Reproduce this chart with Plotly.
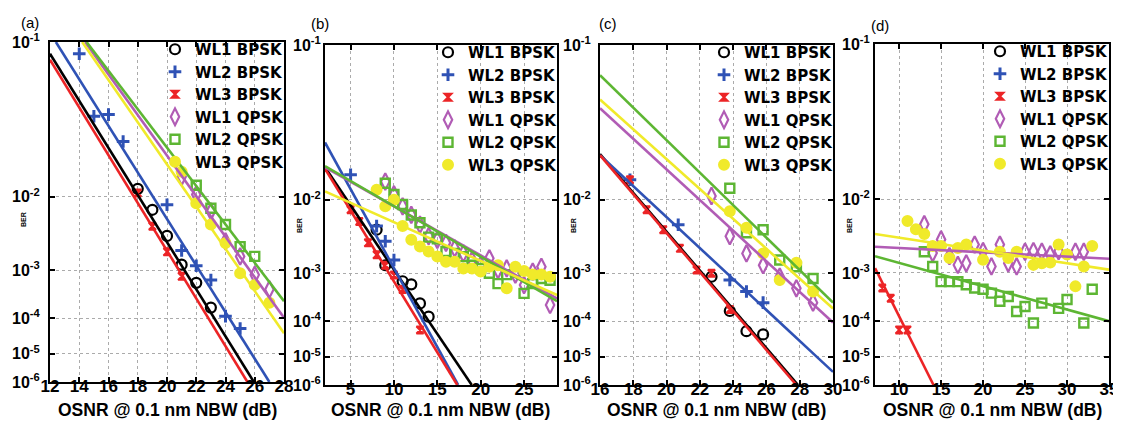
import math
import plotly.graph_objects as go

FIG_W, FIG_H = 1121, 421

SERIES = ["WL1 BPSK", "WL2 BPSK", "WL3 BPSK", "WL1 QPSK", "WL2 QPSK", "WL3 QPSK"]
COLORS = ["#000000", "#2f52b5", "#ec2426", "#b15cb5", "#5db633", "#f0ea2a"]
SYMBOLS = ["circle-open", "cross-thin-open", "hourglass", "diamond-tall-open", "square-open", "circle"]
SIZES = [10, 9, 7, 12, 9, 10]
LINE_W = [2.2, 3.0, 2.0, 2.2, 2.4, 2.0]

PANEL_LABELS = ["(a)", "(b)", "(c)", "(d)"]
X_TITLE = "OSNR @ 0.1 nm NBW (dB)"
Y_TITLE = "BER"
Y_TICK_BER = [1e-1, 1e-2, 1e-3, 1e-4, 1e-5, 1e-6]
Y_TICK_TEXT = ["10<sup>-1</sup>", "10<sup>-2</sup>", "10<sup>-3</sup>",
               "10<sup>-4</sup>", "10<sup>-5</sup>", "10<sup>-6</sup>"]

# ---------------- panel (a) ----------------
a_x_range = [12, 28]
a_x_ticks = [12, 14, 16, 18, 20, 22, 24, 26, 28]
a_wl1b_x = [18, 19, 20, 21, 22, 23]
a_wl1b_ber = [1.2e-2, 7.2e-3, 3.4e-3, 1.25e-3, 5.9e-4, 1.8e-4]
a_wl2b_x = [14, 15, 16, 17, 20, 21, 22, 23, 24, 25]
a_wl2b_ber = [9.0e-2, 4.4e-2, 4.5e-2, 3.0e-2, 8.2e-3, 2.1e-3, 1.2e-3, 6.7e-4, 1.13e-4, 5.5e-5]
a_wl3b_x = [18, 19, 20, 21]
a_wl3b_ber = [1.09e-2, 4.55e-3, 2.0e-3, 7.8e-4]
a_wl1q_x = [21, 22, 23, 24, 25, 26, 27]
a_wl1q_ber = [1.56e-2, 1.05e-2, 6.9e-3, 2.86e-3, 1.7e-3, 8.3e-4, 4.4e-4]
a_wl2q_x = [22, 23, 24, 25, 26]
a_wl2q_ber = [1.3e-2, 7.5e-3, 4.8e-3, 2.4e-3, 1.7e-3]
a_wl3q_x = [21, 22, 23, 24, 25, 26, 27]
a_wl3q_ber = [1.73e-2, 8.5e-3, 4.8e-3, 2.7e-3, 8.9e-4, 5.4e-4, 2.3e-4]
# linear fits (end points)
a_fit_x = [[12, 25.94], [12.4, 27.0], [12, 25.5], [14.4, 28], [14.5, 28], [14.2, 28]]
a_fit_ber = [[9.0e-2, 1e-6], [1e-1, 1e-6], [8.5e-2, 1e-6], [1e-1, 1.03e-4], [1e-1, 2.5e-4], [1e-1, 4.1e-5]]

# ---------------- panel (b) ----------------
b_x_range = [2.05, 28.8]
b_x_ticks = [5, 10, 15, 20, 25]
b_wl1b_x = [8, 9, 11, 12, 13, 14]
b_wl1b_ber = [4.5e-3, 1.37e-3, 7.2e-4, 6.3e-4, 2.6e-4, 1.3e-4]
b_wl2b_x = [5, 8, 9, 10]
b_wl2b_ber = [1.73e-2, 5.0e-3, 3.15e-3, 1.66e-3]
b_wl3b_x = [5, 6, 7, 8, 9, 10, 11, 13]
b_wl3b_ber = [7.8e-3, 5.7e-3, 3.0e-3, 2.0e-3, 1.37e-3, 9.3e-4, 5.0e-4, 6.0e-5]
b_wl1q_x = [9, 10, 11, 12, 13, 14, 15, 16, 17, 18, 19, 20, 21, 22, 23, 24, 25, 26, 27, 28]
b_wl1q_ber = [1.5e-2, 1.13e-2, 8.5e-3, 6.8e-3, 5.2e-3, 3.7e-3, 3.3e-3, 3.0e-3, 2.5e-3, 2.1e-3,
              1.66e-3, 1.37e-3, 1.77e-3, 1.14e-3, 1.21e-3, 9.5e-4, 6.1e-4, 1.07e-3, 1.29e-3, 2.4e-4]
b_wl2q_x = [9, 10, 11, 12, 13, 14, 15, 16, 17, 18, 19, 20, 21, 22, 23, 24, 25, 26, 27, 28]
b_wl2q_ber = [1.45e-2, 1.13e-2, 8.9e-3, 6.8e-3, 5.5e-3, 3.6e-3, 3.4e-3, 2.25e-3, 2.1e-3, 1.88e-3,
              1.37e-3, 1.21e-3, 1.0e-3, 6.5e-4, 9.5e-4, 1.07e-3, 4.2e-4, 6.5e-4, 8.1e-4, 7.5e-4]
b_wl3q_x = [8, 9, 10, 11, 12, 13, 14, 15, 16, 17, 18, 19, 20, 21, 22, 23, 24, 25, 26, 27, 28]
b_wl3q_ber = [1.26e-2, 8.5e-3, 1.0e-2, 5.0e-3, 3.3e-3, 2.67e-3, 2.25e-3, 1.88e-3, 1.56e-3, 1.56e-3,
              1.21e-3, 1.21e-3, 1.07e-3, 1.29e-3, 1.37e-3, 5.3e-4, 1.29e-3, 1.1e-3, 9.5e-4, 9.5e-4, 8.7e-4]
b_fit_x = [[2.05, 18.97], [2.05, 17.4], [2.05, 17.3], [2.05, 28.8], [2.05, 28.8], [2.05, 28.8]]
b_fit_ber = [[2.0e-2, 1e-6], [3.1e-2, 1e-6], [1.95e-2, 1e-6], [2.0e-2, 3.3e-4], [2.05e-2, 2.9e-4], [1.21e-2, 3.9e-4]]

# ---------------- panel (c) ----------------
c_x_range = [16, 30]
c_x_ticks = [16, 18, 20, 22, 24, 26, 28, 30]
c_wl1b_x = [22.7, 23.8, 24.8, 25.8]
c_wl1b_ber = [8.7e-4, 1.76e-4, 5.6e-5, 4.6e-5]
c_wl2b_x = [17.8, 20.7, 23.8, 24.8, 25.8]
c_wl2b_ber = [1.56e-2, 5.2e-3, 7.6e-4, 4.6e-4, 2.7e-4]
c_wl3b_x = [17.8, 18.8, 19.8, 20.8, 21.8, 22.7, 23.8]
c_wl3b_ber = [1.56e-2, 7.8e-3, 4.5e-3, 2.5e-3, 1.14e-3, 1.0e-3, 1.9e-4]
c_wl1q_x = [22.7, 23.8, 24.8, 25.8, 26.8, 27.8, 28.8]
c_wl1q_ber = [1.09e-2, 3.7e-3, 2.1e-3, 1.37e-3, 8.7e-4, 5.3e-4, 2.7e-4]
c_wl2q_x = [23.8, 24.8, 25.8, 26.8, 27.8, 28.8]
c_wl2q_ber = [1.3e-2, 4.1e-3, 4.5e-3, 1.66e-3, 1.29e-3, 8.1e-4]
c_wl3q_x = [23.8, 24.8, 25.8, 26.8, 27.8, 28.8]
c_wl3q_ber = [7.5e-3, 4.75e-3, 2.1e-3, 7.6e-4, 1.5e-3, 4.6e-4]
c_fit_x = [[16, 27.9], [16, 30], [16, 27.8], [16, 30], [16, 30], [16, 30]]
c_fit_ber = [[2.55e-2, 1e-6], [2.5e-2, 3.1e-6], [2.5e-2, 1e-6], [5.1e-2, 9.4e-5], [7.5e-2, 2.7e-4], [5.7e-2, 2.0e-4]]

# ---------------- panel (d) ----------------
d_x_range = [7.13, 35]
d_x_ticks = [10, 15, 20, 25, 30, 35]
d_wl1b_x = [None]
d_wl1b_ber = [None]
d_wl2b_x = [None]
d_wl2b_ber = [None]
d_wl3b_x = [8, 9, 10, 11]
d_wl3b_ber = [5.3e-4, 3.3e-4, 6.0e-5, 6.0e-5]
d_wl1q_x = [13, 14, 15, 16, 17, 18, 19, 20, 21, 22, 23, 24, 25, 26, 27, 28, 29, 31, 32]
d_wl1q_ber = [5.2e-3, 2.1e-3, 3.3e-3, 1.88e-3, 1.37e-3, 1.45e-3, 2.8e-3, 2.25e-3, 1.29e-3, 2.8e-3,
              1.45e-3, 1.29e-3, 2.2e-3, 2.25e-3, 2.2e-3, 2.0e-3, 2.25e-3, 2.2e-3, 2.2e-3]
d_wl2q_x = [13, 14, 15, 16, 17, 18, 19, 20, 21, 22, 23, 24, 25, 26, 27, 29, 30, 32, 33]
d_wl2q_ber = [2.2e-3, 1.29e-3, 7.0e-4, 7.0e-4, 7.0e-4, 6.1e-4, 5.3e-4, 5.0e-4, 4.2e-4, 2.85e-4,
              3.6e-4, 1.7e-4, 2.2e-4, 9.0e-5, 2.6e-4, 2.0e-4, 3.1e-4, 9.0e-5, 5.0e-4]
d_wl3q_x = [11, 12, 13, 14, 15, 16, 17, 18, 20, 22, 23, 24, 26, 27, 28, 29, 30, 31, 32, 33]
d_wl3q_ber = [5.7e-3, 4.5e-3, 3.9e-3, 2.67e-3, 2.67e-3, 1.77e-3, 2.5e-3, 2.8e-3, 1.66e-3, 2.2e-3,
              1.77e-3, 2.2e-3, 1.37e-3, 1.45e-3, 1.5e-3, 2.8e-3, 2.0e-3, 5.7e-4, 1.29e-3, 2.67e-3]
d_fit_x = [None, None, [7.13, 14.1], [7.13, 35], [7.13, 35], [7.13, 35]]
d_fit_ber = [None, None, [1.21e-3, 1e-6], [2.6e-3, 1.72e-3], [1.88e-3, 1.0e-4], [3.9e-3, 1.14e-3]]


# ---------- BER scale: 20*log10(Q), Q = sqrt(2)*erfcinv(2*BER) ----------
def erfcinv(p):
    lo, hi = 0.0, 10.0
    for _ in range(100):
        mid = 0.5 * (lo + hi)
        if math.erfc(mid) > p:
            lo = mid
        else:
            hi = mid
    return 0.5 * (lo + hi)


def qdb(ber):
    if ber is None:
        return None
    return 20.0 * math.log10(math.sqrt(2.0) * erfcinv(2.0 * ber))


panels = [
    dict(xr=a_x_range, xt=a_x_ticks,
         pts=[(a_wl1b_x, a_wl1b_ber), (a_wl2b_x, a_wl2b_ber), (a_wl3b_x, a_wl3b_ber),
              (a_wl1q_x, a_wl1q_ber), (a_wl2q_x, a_wl2q_ber), (a_wl3q_x, a_wl3q_ber)],
         fx=a_fit_x, fy=a_fit_ber, box=(42, 276, 34, 374), ystand=5),
    dict(xr=b_x_range, xt=b_x_ticks,
         pts=[(b_wl1b_x, b_wl1b_ber), (b_wl2b_x, b_wl2b_ber), (b_wl3b_x, b_wl3b_ber),
              (b_wl1q_x, b_wl1q_ber), (b_wl2q_x, b_wl2q_ber), (b_wl3q_x, b_wl3q_ber)],
         fx=b_fit_x, fy=b_fit_ber, box=(317, 549, 37, 377), ystand=-1),
    dict(xr=c_x_range, xt=c_x_ticks,
         pts=[(c_wl1b_x, c_wl1b_ber), (c_wl2b_x, c_wl2b_ber), (c_wl3b_x, c_wl3b_ber),
              (c_wl1q_x, c_wl1q_ber), (c_wl2q_x, c_wl2q_ber), (c_wl3q_x, c_wl3q_ber)],
         fx=c_fit_x, fy=c_fit_ber, box=(592, 825, 37, 377), ystand=4),
    dict(xr=d_x_range, xt=d_x_ticks,
         pts=[(d_wl1b_x, d_wl1b_ber), (d_wl2b_x, d_wl2b_ber), (d_wl3b_x, d_wl3b_ber),
              (d_wl1q_x, d_wl1q_ber), (d_wl2q_x, d_wl2q_ber), (d_wl3q_x, d_wl3q_ber)],
         fx=d_fit_x, fy=d_fit_ber, box=(867, 1101, 36, 377), ystand=0),
]

BER_LABEL_POS = [(15, 212), (292, 218), (566, 218), (842, 218)]
PANEL_LABEL_POS = [(22, 14), (312, 15), (600, 15), (872, 17)]

fig = go.Figure()
layout = dict(
    width=FIG_W, height=FIG_H,
    margin=dict(l=0, r=0, t=0, b=0),
    paper_bgcolor="white", plot_bgcolor="white",
    font=dict(family="Liberation Sans, Arial, sans-serif", color="black"),
    annotations=[],
)

ytv = [qdb(b) for b in Y_TICK_BER]

for i, p in enumerate(panels):
    sfx = "" if i == 0 else str(i + 1)
    xa, ya = "x" + sfx, "y" + sfx
    lg = "legend" + sfx
    l, r, t, b = p["box"]
    # markers
    for k in range(6):
        xs, bs = p["pts"][k]
        fig.add_trace(go.Scatter(
            x=xs, y=[qdb(v) for v in bs], mode="markers", name=SERIES[k],
            xaxis=xa, yaxis=ya, legend=lg, showlegend=True,
            marker=dict(symbol=SYMBOLS[k], size=SIZES[k], color=COLORS[k],
                        line=dict(color=COLORS[k], width=LINE_W[k])),
            cliponaxis=True,
        ))
    # fitted lines
    for k in range(6):
        if p["fx"][k] is None:
            continue
        fig.add_trace(go.Scatter(
            x=p["fx"][k], y=[qdb(v) for v in p["fy"][k]], mode="lines",
            xaxis=xa, yaxis=ya, showlegend=False, hoverinfo="skip",
            line=dict(color=COLORS[k], width=2.6),
        ))
    common = dict(showline=True, linewidth=2, linecolor="black", mirror="ticks",
                  ticks="inside", ticklen=5, tickwidth=1.5, tickcolor="black",
                  showgrid=True, gridcolor="#ababab", griddash="dot", gridwidth=1,
                  zeroline=False, automargin=False)
    layout["xaxis" + sfx] = dict(
        domain=[l / FIG_W, r / FIG_W], anchor=ya, range=p["xr"],
        tickmode="array", tickvals=p["xt"], ticklabelstandoff=-12,
        tickfont=dict(size=17, weight="bold", family="Liberation Sans, Arial"),
        **common)
    layout["yaxis" + sfx] = dict(
        domain=[1 - b / FIG_H, 1 - t / FIG_H], anchor=xa,
        range=[qdb(1e-6), qdb(1e-1)], ticklabelstandoff=p["ystand"],
        tickmode="array", tickvals=ytv, ticktext=Y_TICK_TEXT,
        tickfont=dict(size=16, weight="bold", family="Liberation Sans, Arial"),
        **common)
    layout[lg] = dict(
        x=(r + 6) / FIG_W, xanchor="right", y=1 - (t - 9) / FIG_H, yanchor="top",
        bgcolor="rgba(0,0,0,0)", borderwidth=0, itemwidth=30,
        font=dict(size=15, weight="bold", family="DejaVu Sans, Liberation Sans", color="black"),
        tracegroupgap=0,
    )
    layout["annotations"].append(dict(
        text=X_TITLE, x=(l + r) / 2 / FIG_W, y=1 - 402 / FIG_H, xref="paper", yref="paper",
        xanchor="center", yanchor="middle", showarrow=False, borderpad=0,
        font=dict(size=17.5, weight="bold", family="Liberation Sans, Arial", color="black")))
    bx, by = BER_LABEL_POS[i]
    layout["annotations"].append(dict(
        text=Y_TITLE, x=bx / FIG_W, y=1 - by / FIG_H, xref="paper", yref="paper",
        xanchor="center", yanchor="middle", showarrow=False, textangle=-90,
        font=dict(size=7, weight="bold", family="Liberation Sans, Arial", color="black")))
    px, py = PANEL_LABEL_POS[i]
    layout["annotations"].append(dict(
        text=PANEL_LABELS[i], x=px / FIG_W, y=1 - py / FIG_H, xref="paper", yref="paper",
        xanchor="center", yanchor="middle", showarrow=False,
        font=dict(size=15, family="Liberation Sans, Arial", color="black")))

fig.update_layout(**layout)
fig.write_html("out.html")
